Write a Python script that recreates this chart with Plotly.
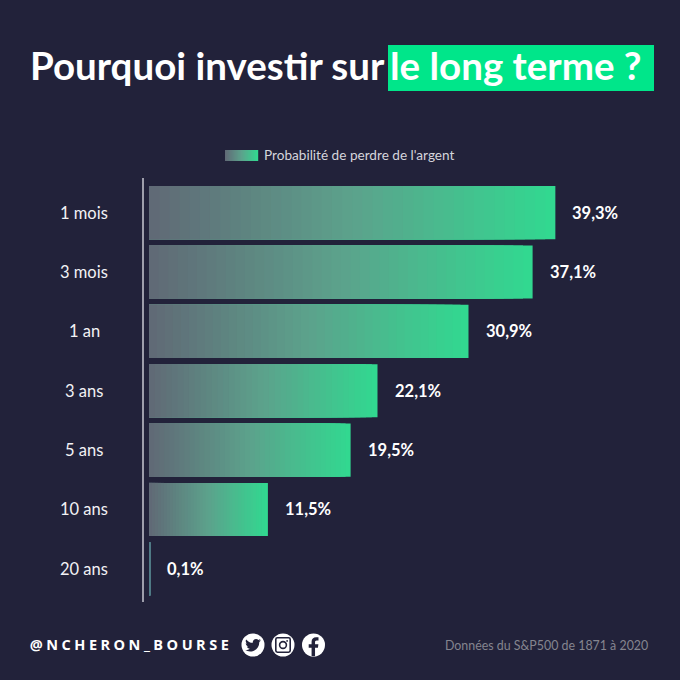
import plotly.graph_objects as go

# valeurs
durees = ["1 mois", "3 mois", "1 an", "3 ans", "5 ans", "10 ans", "20 ans"]
probas = [39.3, 37.1, 30.9, 22.1, 19.5, 11.5, 0.1]
etiquettes = ["39,3%", "37,1%", "30,9%", "22,1%", "19,5%", "11,5%", "0,1%"]

FOND = "#22223a"
GRIS = (96, 106, 118)
MILIEU = (92, 162, 140)
VERT = (50, 216, 144)
FINE = "#4f7a85"  # couleur d'une barre trop fine pour montrer le degrade
NB_BANDES = 40
W = 680
H = 680


def px(x):
    return x / W


def py(y):
    return 1 - y / H


def couleur(t):
    a, b, u = (GRIS, MILIEU, t * 2) if t < 0.5 else (MILIEU, VERT, t * 2 - 1)
    r, g, bl = [a[i] + (b[i] - a[i]) * u for i in range(3)]
    return f"rgb({r:.0f},{g:.0f},{bl:.0f})"


def rect(x0, y0, x1, y1, color):
    return dict(type="rect", xref="paper", yref="paper", x0=px(x0), x1=px(x1), y0=py(y0), y1=py(y1),
                fillcolor=color, line_width=0, layer="below")


def texte(x, y, txt, size, color="white", anchor="left", family="Lato"):
    return dict(x=px(x), y=py(y), xref="paper", yref="paper", text=txt, showarrow=False, xanchor=anchor,
                yanchor="middle", font=dict(size=size, color=color, family=family))


def chemin(points, cx, cy, echelle):
    # points dans une boite de 24x24 centree sur (cx, cy)
    # plotly ne convertit que le premier groupe apres une lettre, donc on repete C et L
    out = []
    cmd = None
    n = 0
    for p in points.split():
        if p[0].isalpha():
            cmd = p
            n = 0
            if cmd in ("M", "Z"):
                out.append(cmd)
            continue
        if cmd == "C" and n % 3 == 0:
            out.append("C")
        if cmd == "L":
            out.append("L")
        n += 1
        a, b = p.split(",")
        out.append(f"{px(cx + (float(a) - 12) * echelle):.5f},{py(cy + (float(b) - 12) * echelle):.5f}")
    return " ".join(out)


fig = go.Figure()

# pas de degrade sur les barres : on empile des bandes de la plus longue a la plus courte
for k in range(NB_BANDES - 1, -1, -1):
    fig.add_trace(go.Bar(
        y=durees,
        x=[v * (k + 1) / NB_BANDES for v in probas],
        orientation="h",
        marker=dict(color=[FINE if v < 1 else couleur(k / (NB_BANDES - 1)) for v in probas], line_width=0),
        hoverinfo="skip",
        showlegend=False,
    ))

shapes = [
    dict(type="line", xref="paper", yref="paper", x0=px(143), x1=px(143), y0=py(178), y1=py(602),
         line=dict(color="#c9c9d2", width=1.5)),
    rect(388, 45, 654, 91, "#00e68a"),
]

# swatch de la legende
for k in range(33):
    shapes.append(rect(225 + k, 150, 225 + k + 1.2, 161, couleur(k / 32)))

# icones
for cx in [253, 283, 313.5]:
    shapes.append(dict(type="circle", xref="paper", yref="paper", x0=px(cx - 11.5), x1=px(cx + 11.5),
                       y0=py(645 - 11.5), y1=py(645 + 11.5), fillcolor="white", line_width=0))
oiseau = ("M 23,5.5 C 22.2,5.9 21.3,6.1 20.4,6.2 21.3,5.6 22,4.8 22.4,3.8 21.5,4.3 20.6,4.7 19.5,4.9 "
          "18.7,4 17.5,3.5 16.2,3.5 13.7,3.5 11.7,5.5 11.7,8 11.7,8.4 11.7,8.7 11.8,9 8,8.8 4.7,7 2.5,4.2 "
          "2.1,4.9 1.9,5.6 1.9,6.5 1.9,8 2.7,9.4 3.9,10.2 3.2,10.2 2.5,10 1.9,9.6 L 1.9,9.7 "
          "C 1.9,11.9 3.4,13.7 5.5,14.1 4.8,14.3 4.1,14.3 3.5,14.2 4.1,16 5.7,17.3 7.7,17.3 "
          "6.1,18.5 4.2,19.2 2.1,19.2 1.7,19.2 1.4,19.2 1,19.1 3,20.4 5.4,21.1 7.9,21.1 "
          "16.2,21.1 20.7,14.3 20.7,8.4 L 20.7,7.8 C 21.6,7.2 22.4,6.4 23,5.5 Z")
shapes.append(dict(type="path", xref="paper", yref="paper", path=chemin(oiseau, 253, 645, 0.72),
                   fillcolor=FOND, line_width=0))
carre = "M 5,3 L 19,3 C 20,3 21,4 21,5 L 21,19 C 21,20 20,21 19,21 L 5,21 C 4,21 3,20 3,19 L 3,5 C 3,4 4,3 5,3 Z"
shapes.append(dict(type="path", xref="paper", yref="paper", path=chemin(carre, 283, 645, 0.8),
                   line=dict(color=FOND, width=1.6)))
shapes.append(dict(type="circle", xref="paper", yref="paper", x0=px(283 - 3.4), x1=px(283 + 3.4),
                   y0=py(645 - 3.4), y1=py(645 + 3.4), line=dict(color=FOND, width=1.6)))
shapes.append(dict(type="circle", xref="paper", yref="paper", x0=px(287.1 - 0.9), x1=px(287.1 + 0.9),
                   y0=py(640.9 - 0.9), y1=py(640.9 + 0.9), fillcolor=FOND, line_width=0))
effe = ("M 13.6,23.5 L 13.6,14.8 16.6,14.8 17.1,11.2 13.6,11.2 13.6,9 C 13.6,8 14,7.2 15.4,7.2 "
        "L 17.2,7.2 17.2,4 C 16.8,4 15.8,3.9 14.7,3.9 12,3.9 10,5.6 10,8.6 L 10,11.2 7,11.2 7,14.8 "
        "10,14.8 10,23.5 Z")
shapes.append(dict(type="path", xref="paper", yref="paper", path=chemin(effe, 313.5, 645, 0.96),
                   fillcolor=FOND, line_width=0))

annotations = [
    texte(28, 65, "<b>Pourquoi investir sur</b>", 38.5),
    texte(388, 65, "<b>le long terme ?</b>", 38.5),
    texte(262, 155, "Probabilité de perdre de l'argent", 13.6, color="#d5d5dc"),
    texte(54, 644, "<b>@NCHERON_BOURSE</b>", 14.5, family="Open Sans"),
    texte(650, 645, "Données du S&amp;P500 de 1871 à 2020", 12.4, color="#85858f", anchor="right"),
]

for d, v, e in zip(durees, probas, etiquettes):
    annotations.append(dict(x=px(84), y=d, xref="paper", yref="y", text=d, showarrow=False, xanchor="center",
                            font=dict(size=16.5, color="#f2f2f5", family="Lato")))
    annotations.append(dict(x=v, y=d, xref="x", yref="y", text=f"<b>{e}</b>", showarrow=False, xanchor="left",
                            xshift=15, font=dict(size=16.5, color="white", family="Lato")))

fig.update_layout(
    width=W,
    height=H,
    margin=dict(l=0, r=0, t=0, b=0),
    paper_bgcolor=FOND,
    plot_bgcolor=FOND,
    barmode="overlay",
    bargap=0.105,
    shapes=shapes,
    annotations=annotations,
    xaxis=dict(domain=[px(149), px(666)], range=[0, 50], visible=False, fixedrange=True),
    yaxis=dict(domain=[py(598.5), py(183)], autorange="reversed", visible=False, fixedrange=True,
               categoryorder="array", categoryarray=durees),
)

# marge de la page a zero, et espacement des lettres du pseudo (pas d'option plotly pour ca)
apres = """
document.body.style.margin = '0';
document.body.style.background = '#22223a';
document.querySelectorAll('.annotation-text').forEach(function (t) {
  if (t.textContent.indexOf('NCHERON') >= 0) { t.style.letterSpacing = '3.5px'; }
});
"""

fig.write_html("out.html", post_script=apres, config={"displayModeBar": False})
